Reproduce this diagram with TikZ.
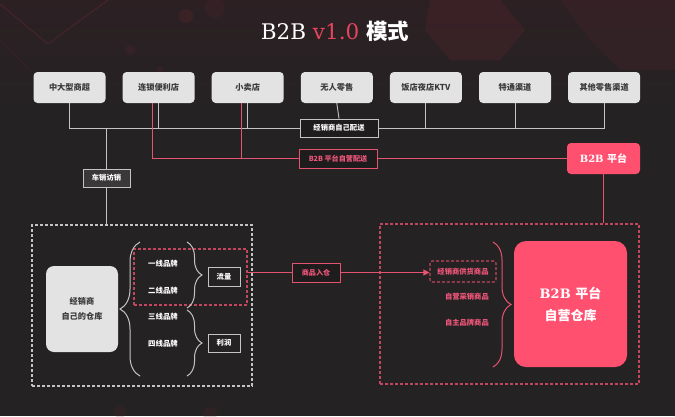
\documentclass[tikz,border=0pt]{standalone}
\usepackage{fontspec}
\setmainfont{DejaVu Serif}
\newfontfamily\cjk{Noto Sans CJK SC}
\usetikzlibrary{decorations.pathreplacing,arrows.meta}
\definecolor{bg}{HTML}{252223}
\definecolor{bgtop}{HTML}{2C2023}
\definecolor{boxfill}{HTML}{E3E3E3}
\definecolor{boxtext}{HTML}{3A3A3A}
\definecolor{gline}{HTML}{C4C4C4}
\definecolor{pinkfill}{HTML}{FF5070}
\definecolor{rline}{HTML}{E4536F}
\definecolor{ptext}{HTML}{F0567A}
\definecolor{darkfill}{HTML}{1E1C1D}
\definecolor{carfill}{HTML}{3A3839}
\definecolor{titlered}{HTML}{E8435E}
\definecolor{deco}{HTML}{5A2630}
\tikzset{
  topbox/.style={fill=boxfill, rounded corners=4pt, minimum width=72pt, minimum height=31pt, inner sep=0pt, text=boxtext, font=\cjk\bfseries\fontsize{8.2}{10}\selectfont},
  glabel/.style={draw=gline, line width=0.9pt, fill=darkfill, minimum height=18pt, inner sep=0pt, text=white, font=\cjk\bfseries\fontsize{7.3}{9}\selectfont},
  rlabel/.style={draw=rline, line width=0.9pt, fill=darkfill, minimum height=19pt, inner sep=0pt, text=ptext, font=\cjk\bfseries\fontsize{7.1}{9}\selectfont},
  brand/.style={text=white, inner sep=0pt, font=\cjk\bfseries\fontsize{7.4}{9}\selectfont},
  plabel/.style={text=ptext, inner sep=0pt, anchor=east, font=\cjk\bfseries\fontsize{7.3}{9}\selectfont},
  gl/.style={draw=gline, line width=0.9pt},
  rl/.style={draw=rline, line width=0.9pt},
  gdash/.style={draw=gline, line width=1.1pt, dash pattern=on 3pt off 2pt, inner sep=0pt},
  rdash/.style={draw=rline!85!black, line width=1.1pt, dash pattern=on 3pt off 2pt, inner sep=0pt},
  gbrace/.style={draw=gline, line width=1pt, decorate},
  rbrace/.style={draw=rline, line width=1pt, decorate}
}
\begin{document}
\begin{tikzpicture}[x=1pt,y=-1pt]
% background
\fill[bg] (0,0) rectangle (675,416);
\shade[top color=bgtop, bottom color=bg] (0,0) rectangle (675,110);
\useasboundingbox (0,0) rectangle (675,416);
% faint decorations
\draw[deco, line width=1pt, opacity=0.6] (0,4) -- (48,44) -- (108,0);
\draw[deco, line width=1pt, opacity=0.3] (0,40) -- (30,70);
\fill[deco, opacity=0.3] (430,0) -- (500,0) -- (525,30) -- (500,60) -- (450,60) -- (425,30) -- cycle;
\fill[deco, opacity=0.2] (560,0) -- (675,0) -- (675,70) -- (620,70) -- (590,40) -- cycle;
\fill[deco, opacity=0.35] (186,16) circle (7);
\fill[deco, opacity=0.25] (130,50) circle (5);
\fill[deco, opacity=0.2] (160,70) circle (4);
\fill[deco, opacity=0.2] (215,8) circle (10);
\fill[deco, opacity=0.18] (120,412) circle (6);
\fill[deco, opacity=0.18] (210,414) circle (7);
% title
\node[text=white, inner sep=0pt] (title) at (335,31) {\fontsize{21.5}{24}\selectfont B2B \textcolor{titlered}{v1.0} {\cjk\bfseries 模式}};
% top boxes
\node[topbox] (b1) at (69.5,87.5) {中大型商超};
\node[topbox] (b2) at (158.6,87.5) {连锁便利店};
\node[topbox] (b3) at (247.7,87.5) {小卖店};
\node[topbox] (b4) at (336.8,87.5) {无人零售};
\node[topbox] (b5) at (425.9,87.5) {饭店夜店KTV};
\node[topbox] (b6) at (515,87.5) {特通渠道};
\node[topbox] (b7) at (604.1,87.5) {其他零售渠道};
% label boxes
\node[glabel, minimum width=78pt] (dist) at (339,128) {经销商自己配送};
\node[rlabel, minimum width=78pt] (self) at (338,158.5) {B2B 平台自营配送};
\node[glabel, fill=carfill, minimum width=47pt] (car) at (106.5,178) {车销访销};
\node[fill=pinkfill, rounded corners=4pt, minimum width=73pt, minimum height=31pt, inner sep=0pt, text=white, font=\bfseries\fontsize{10}{12}\selectfont] (b2bp) at (603.5,158.5) {B2B {\cjk 平台}};
% dashed regions
\node[gdash, minimum width=220pt, minimum height=161pt] (L) at (142,305.5) {};
\node[rdash, minimum width=113pt, minimum height=56pt] (rd) at (190.5,277) {};
\node[rdash, minimum width=259pt, minimum height=160pt] (R) at (509.5,304) {};
% left content
\node[fill=boxfill, rounded corners=8pt, minimum width=72pt, minimum height=86pt, inner sep=0pt, text=boxtext, align=center, font=\cjk\bfseries\fontsize{8.2}{15.5}\selectfont] (wh) at (82,309) {经销商\\自己的仓库};
\node[brand] (t1) at (163,264) {一线品牌};
\node[brand] (t2) at (163,291) {二线品牌};
\node[brand] (t3) at (163,317) {三线品牌};
\node[brand] (t4) at (163,344) {四线品牌};
\node[glabel, fill=none, minimum width=32pt, minimum height=19pt] (flow) at (224,276.5) {流量};
\node[glabel, fill=none, minimum width=32pt, minimum height=18pt] (profit) at (224,343) {利润};
\draw[gbrace, decoration={brace, amplitude=20pt}] (140,376) -- (140,242);
\draw[gbrace, decoration={brace, amplitude=15pt}] (187,242) -- (187,308);
\draw[gbrace, decoration={brace, amplitude=15pt}] (187,310) -- (187,376);
% middle
\node[rlabel, minimum width=48pt] (in) at (316,272.5) {商品入仓};
% right content
\node[rdash, rounded corners=2pt, minimum width=66pt, minimum height=21pt, text=ptext, font=\cjk\bfseries\fontsize{7.3}{9}\selectfont] (sup) at (463,271.5) {经销商供货商品};
\node[plabel] (p2) at (489,297) {自营采销商品};
\node[plabel] (p3) at (489,323) {自主品牌商品};
\draw[rbrace, decoration={brace, amplitude=18pt}] (493,242) -- (493,367);
\node[fill=pinkfill, rounded corners=12pt, minimum width=113pt, minimum height=126pt, inner sep=0pt, text=white, align=center, font=\bfseries\fontsize{13}{22}\selectfont] (big) at (570.5,304) {B2B {\cjk 平台}\\{\cjk 自营仓库}};
% gray connectors
\draw[gl] (b1.south) |- (dist.west);
\draw[gl] (dist.east) -| (b7.south);
\draw[gl] (b4.south) -- (dist.north);
\draw[gl] (b2.south) -- (b2.south |- dist.west);
\draw[gl] (b3.south) -- (b3.south |- dist.west);
\draw[gl] (b5.south) -- (b5.south |- dist.east);
\draw[gl] (b6.south) -- (b6.south |- dist.east);
\draw[gl] (car.north) -- (car.north |- dist.west);
\draw[gl] (car.south) -- (car.south |- L.north);
% red connectors
\draw[rl] ([xshift=-6.5pt]b2.south) |- (self.west);
\draw[rl] ([xshift=-6.5pt]b3.south) -- ([xshift=-6.5pt]b3.south |- self.west);
\draw[rl] (self.east) -- (b2bp.west);
\draw[rl] (b2bp.south) -- (b2bp.south |- R.north);
\draw[rl] (in.west -| rd.east) -- (in.west);
\draw[rl, -{Triangle[length=6pt,width=6pt]}] (in.east) -- (in.east -| sup.west);
\end{tikzpicture}
\end{document}
